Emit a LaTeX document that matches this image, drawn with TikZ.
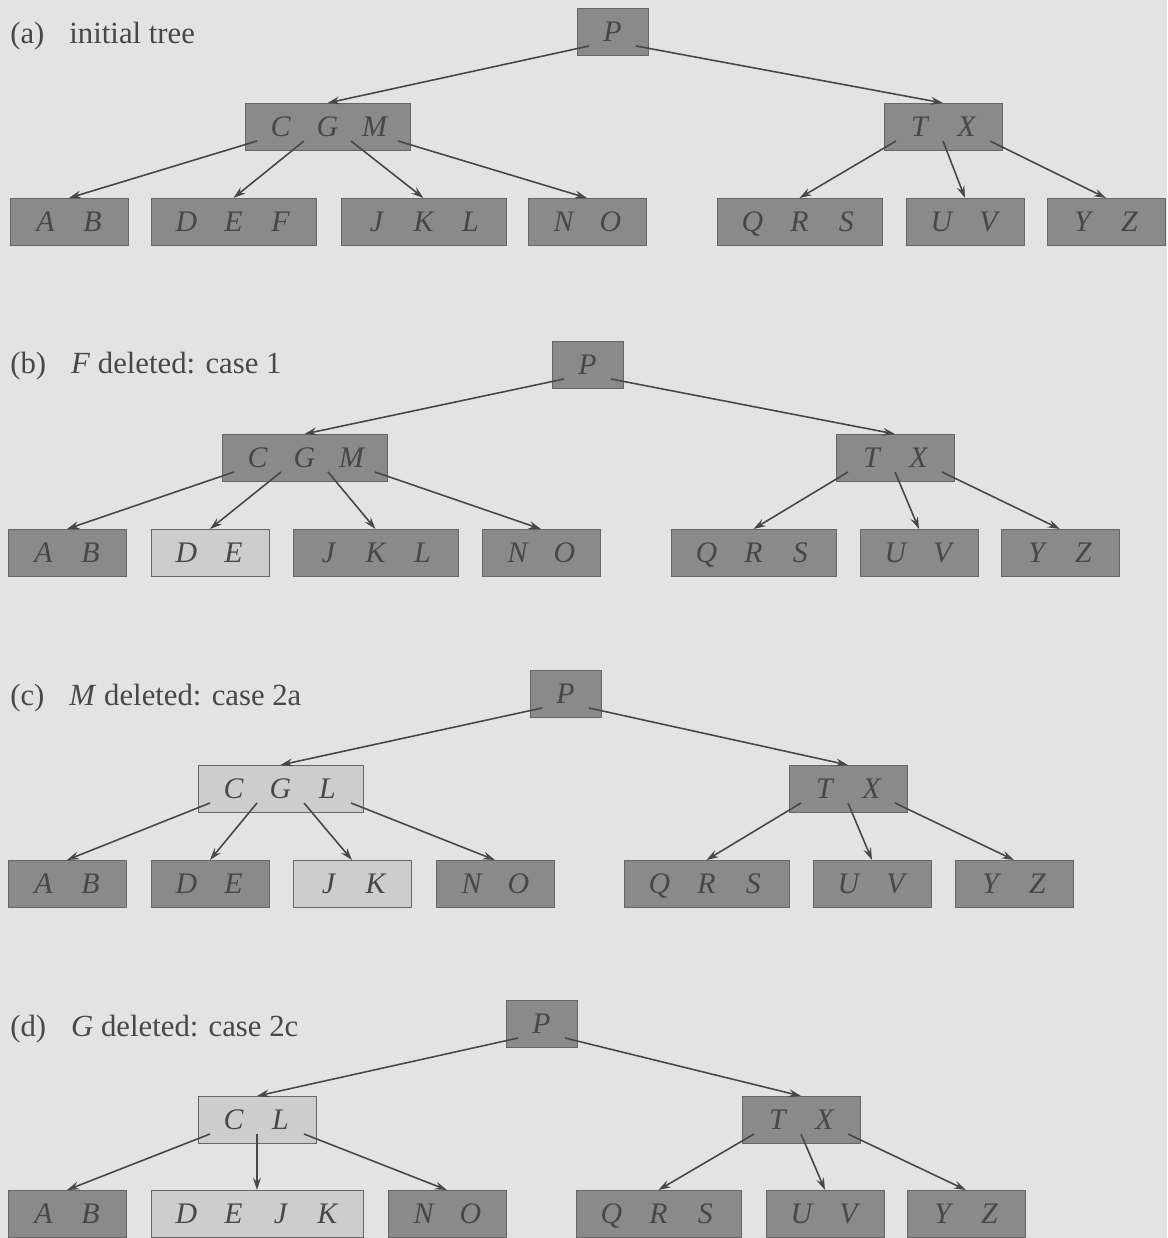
\documentclass[tikz,border=0pt]{standalone}
\usepackage{fontspec}
\setmainfont{Liberation Serif}
\usetikzlibrary{arrows.meta,calc}
\definecolor{paper}{HTML}{E3E3E3}
\definecolor{keydark}{HTML}{8A8A8A}
\definecolor{keylight}{HTML}{CDCDCD}
\definecolor{edgegrey}{HTML}{666666}
\definecolor{inkgrey}{HTML}{474747}
\newcommand{\bkey}[1]{\makebox[0.94cm]{\itshape #1}}
\tikzset{
  bnode/.style={draw=edgegrey,fill=keydark,text=inkgrey,anchor=north west,line width=0.5pt,
                minimum height=0.94cm,inner xsep=0.24cm,inner ysep=0pt,outer sep=0pt,
                text height=11.3pt,text depth=0pt,
                font=\fontsize{17pt}{20pt}\selectfont},
  litnode/.style={bnode,fill=keylight},
  ptr/.style={-{Stealth[length=7pt,width=4.5pt,inset=2.5pt]},draw=inkgrey,line width=0.9pt},
  paneltitle/.style={anchor=base west,text=inkgrey,inner sep=0pt,font=\fontsize{17.5pt}{21pt}\selectfont},
}
\begin{document}
\begin{tikzpicture}[x=0.02cm,y=-0.02cm]
  \useasboundingbox (0,0) rectangle (1167,1238);
  \fill[paper] (0,0) rectangle (1167,1238);
  % (a) initial tree
  \node[paneltitle] (capa) at (10,43) {(a)\hspace{0.5cm}initial tree};
  \node[bnode] (pa) at (577,8) {\bkey{P}};
  \node[bnode] (cgma) at (245,103) {\bkey{C}\bkey{G}\bkey{M}};
  \node[bnode] (txa) at (884,103) {\bkey{T}\bkey{X}};
  \node[bnode] (aba) at (10,198) {\bkey{A}\bkey{B}};
  \node[bnode] (defa) at (151,198) {\bkey{D}\bkey{E}\bkey{F}};
  \node[bnode] (jkla) at (341,198) {\bkey{J}\bkey{K}\bkey{L}};
  \node[bnode] (noa) at (528,198) {\bkey{N}\bkey{O}};
  \node[bnode] (qrsa) at (717,198) {\bkey{Q}\bkey{R}\bkey{S}};
  \node[bnode] (uva) at (906,198) {\bkey{U}\bkey{V}};
  \node[bnode] (yza) at (1047,198) {\bkey{Y}\bkey{Z}};
  \draw[ptr] ($(pa.south west)+(12,-9)$) -- (cgma.north);
  \draw[ptr] ($(pa.south west)+(59,-9)$) -- (txa.north);
  \draw[ptr] ($(cgma.south west)+(12,-9)$) -- (aba.north);
  \draw[ptr] ($(cgma.south west)+(59,-9)$) -- (defa.north);
  \draw[ptr] ($(cgma.south west)+(106,-9)$) -- (jkla.north);
  \draw[ptr] ($(cgma.south west)+(153,-9)$) -- (noa.north);
  \draw[ptr] ($(txa.south west)+(12,-9)$) -- (qrsa.north);
  \draw[ptr] ($(txa.south west)+(59,-9)$) -- (uva.north);
  \draw[ptr] ($(txa.south west)+(106,-9)$) -- (yza.north);
  % (b) F deleted
  \node[paneltitle] (capb) at (10,373) {(b)\hspace{0.5cm}\textit{F} deleted: case 1};
  \node[bnode] (pb) at (552,341) {\bkey{P}};
  \node[bnode] (cgmb) at (222,434) {\bkey{C}\bkey{G}\bkey{M}};
  \node[bnode] (txb) at (836,434) {\bkey{T}\bkey{X}};
  \node[bnode] (abb) at (8,529) {\bkey{A}\bkey{B}};
  \node[litnode] (deb) at (151,529) {\bkey{D}\bkey{E}};
  \node[bnode] (jklb) at (293,529) {\bkey{J}\bkey{K}\bkey{L}};
  \node[bnode] (nob) at (482,529) {\bkey{N}\bkey{O}};
  \node[bnode] (qrsb) at (671,529) {\bkey{Q}\bkey{R}\bkey{S}};
  \node[bnode] (uvb) at (860,529) {\bkey{U}\bkey{V}};
  \node[bnode] (yzb) at (1001,529) {\bkey{Y}\bkey{Z}};
  \draw[ptr] ($(pb.south west)+(12,-9)$) -- (cgmb.north);
  \draw[ptr] ($(pb.south west)+(59,-9)$) -- (txb.north);
  \draw[ptr] ($(cgmb.south west)+(12,-9)$) -- (abb.north);
  \draw[ptr] ($(cgmb.south west)+(59,-9)$) -- (deb.north);
  \draw[ptr] ($(cgmb.south west)+(106,-9)$) -- (jklb.north);
  \draw[ptr] ($(cgmb.south west)+(153,-9)$) -- (nob.north);
  \draw[ptr] ($(txb.south west)+(12,-9)$) -- (qrsb.north);
  \draw[ptr] ($(txb.south west)+(59,-9)$) -- (uvb.north);
  \draw[ptr] ($(txb.south west)+(106,-9)$) -- (yzb.north);
  % (c) M deleted
  \node[paneltitle] (capc) at (10,705) {(c)\hspace{0.5cm}\textit{M} deleted: case 2a};
  \node[bnode] (pc) at (530,670) {\bkey{P}};
  \node[litnode] (cglc) at (198,765) {\bkey{C}\bkey{G}\bkey{L}};
  \node[bnode] (txc) at (789,765) {\bkey{T}\bkey{X}};
  \node[bnode] (abc) at (8,860) {\bkey{A}\bkey{B}};
  \node[bnode] (dec) at (151,860) {\bkey{D}\bkey{E}};
  \node[litnode] (jkc) at (293,860) {\bkey{J}\bkey{K}};
  \node[bnode] (noc) at (436,860) {\bkey{N}\bkey{O}};
  \node[bnode] (qrsc) at (624,860) {\bkey{Q}\bkey{R}\bkey{S}};
  \node[bnode] (uvc) at (813,860) {\bkey{U}\bkey{V}};
  \node[bnode] (yzc) at (955,860) {\bkey{Y}\bkey{Z}};
  \draw[ptr] ($(pc.south west)+(12,-9)$) -- (cglc.north);
  \draw[ptr] ($(pc.south west)+(59,-9)$) -- (txc.north);
  \draw[ptr] ($(cglc.south west)+(12,-9)$) -- (abc.north);
  \draw[ptr] ($(cglc.south west)+(59,-9)$) -- (dec.north);
  \draw[ptr] ($(cglc.south west)+(106,-9)$) -- (jkc.north);
  \draw[ptr] ($(cglc.south west)+(153,-9)$) -- (noc.north);
  \draw[ptr] ($(txc.south west)+(12,-9)$) -- (qrsc.north);
  \draw[ptr] ($(txc.south west)+(59,-9)$) -- (uvc.north);
  \draw[ptr] ($(txc.south west)+(106,-9)$) -- (yzc.north);
  % (d) G deleted
  \node[paneltitle] (capd) at (10,1036) {(d)\hspace{0.5cm}\textit{G} deleted: case 2c};
  \node[bnode] (pd) at (506,1000) {\bkey{P}};
  \node[litnode] (cld) at (198,1096) {\bkey{C}\bkey{L}};
  \node[bnode] (txd) at (742,1096) {\bkey{T}\bkey{X}};
  \node[bnode] (abd) at (8,1190) {\bkey{A}\bkey{B}};
  \node[litnode] (dejkd) at (151,1190) {\bkey{D}\bkey{E}\bkey{J}\bkey{K}};
  \node[bnode] (nod) at (388,1190) {\bkey{N}\bkey{O}};
  \node[bnode] (qrsd) at (576,1190) {\bkey{Q}\bkey{R}\bkey{S}};
  \node[bnode] (uvd) at (766,1190) {\bkey{U}\bkey{V}};
  \node[bnode] (yzd) at (907,1190) {\bkey{Y}\bkey{Z}};
  \draw[ptr] ($(pd.south west)+(12,-9)$) -- (cld.north);
  \draw[ptr] ($(pd.south west)+(59,-9)$) -- (txd.north);
  \draw[ptr] ($(cld.south west)+(12,-9)$) -- (abd.north);
  \draw[ptr] ($(cld.south west)+(59,-9)$) -- (dejkd.north);
  \draw[ptr] ($(cld.south west)+(106,-9)$) -- (nod.north);
  \draw[ptr] ($(txd.south west)+(12,-9)$) -- (qrsd.north);
  \draw[ptr] ($(txd.south west)+(59,-9)$) -- (uvd.north);
  \draw[ptr] ($(txd.south west)+(106,-9)$) -- (yzd.north);
\end{tikzpicture}
\end{document}
